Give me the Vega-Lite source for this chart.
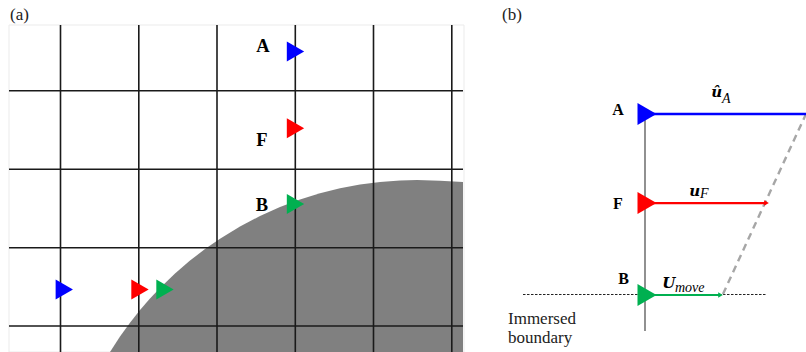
{
  "$schema": "https://vega.github.io/schema/vega-lite/v6.json",
  "width": 806,
  "height": 352,
  "padding": 0,
  "autosize": {"type": "none"},
  "background": "white",
  "config": {"view": {"stroke": null}, "axis": {"disable": true}, "text": {"font": "Liberation Serif, Times New Roman, DejaVu Serif, serif"}},
  "datasets": {
    "body": [
      {"x": 110, "y": 352}, {"x": 120, "y": 336.6}, {"x": 130, "y": 322.7}, {"x": 140, "y": 310.1},
      {"x": 150, "y": 298.5}, {"x": 160, "y": 287.9}, {"x": 175, "y": 273.5}, {"x": 190, "y": 260.6},
      {"x": 205, "y": 249.0}, {"x": 220, "y": 238.7}, {"x": 240, "y": 226.5}, {"x": 260, "y": 216.0},
      {"x": 280, "y": 207.1}, {"x": 300, "y": 199.5}, {"x": 320, "y": 193.3}, {"x": 340, "y": 188.3},
      {"x": 360, "y": 184.5}, {"x": 380, "y": 181.9}, {"x": 400, "y": 180.4}, {"x": 417, "y": 180.0},
      {"x": 440, "y": 180.7}, {"x": 463, "y": 182.0}
    ],
    "segs": [
      {"kind": "grid", "x": 60.5, "y": 25, "x2": 60.5, "y2": 352},
      {"kind": "grid", "x": 138.8, "y": 25, "x2": 138.8, "y2": 352},
      {"kind": "grid", "x": 217, "y": 25, "x2": 217, "y2": 352},
      {"kind": "grid", "x": 295.3, "y": 25, "x2": 295.3, "y2": 352},
      {"kind": "grid", "x": 373.5, "y": 25, "x2": 373.5, "y2": 352},
      {"kind": "grid", "x": 451.8, "y": 25, "x2": 451.8, "y2": 352},
      {"kind": "grid", "x": 9, "y": 90.7, "x2": 463, "y2": 90.7},
      {"kind": "grid", "x": 9, "y": 169.2, "x2": 463, "y2": 169.2},
      {"kind": "grid", "x": 9, "y": 247.7, "x2": 463, "y2": 247.7},
      {"kind": "grid", "x": 9, "y": 326, "x2": 463, "y2": 326},
      {"kind": "axis", "x": 645, "y": 114, "x2": 645, "y2": 331},
      {"kind": "boundary", "x": 523, "y": 294.5, "x2": 767, "y2": 294.5},
      {"kind": "guide", "x": 723, "y": 294, "x2": 806, "y2": 114},
      {"kind": "blue", "x": 650, "y": 114, "x2": 806, "y2": 114},
      {"kind": "red", "x": 650, "y": 203, "x2": 765, "y2": 203},
      {"kind": "green", "x": 650, "y": 295, "x2": 719, "y2": 295}
    ],
    "pts": [
      {"panel": "a", "pt": "A", "x": 295.5, "y": 51.5},
      {"panel": "a", "pt": "F", "x": 295.5, "y": 128.3},
      {"panel": "a", "pt": "B", "x": 295.5, "y": 204},
      {"panel": "a", "pt": "A", "x": 64.3, "y": 289.5},
      {"panel": "a", "pt": "F", "x": 140, "y": 289.5},
      {"panel": "a", "pt": "B", "x": 165, "y": 289.5},
      {"panel": "b", "pt": "A", "x": 647, "y": 114},
      {"panel": "b", "pt": "F", "x": 647, "y": 203},
      {"panel": "b", "pt": "B", "x": 647, "y": 295},
      {"panel": "head", "pt": "F", "x": 766.5, "y": 203},
      {"panel": "head", "pt": "B", "x": 720.5, "y": 295}
    ],
    "txt": [
      {"kind": "panel", "t": "(a)", "x": 10, "y": 20},
      {"kind": "panel", "t": "(b)", "x": 502, "y": 20},
      {"kind": "ptA", "t": "A", "x": 263, "y": 52},
      {"kind": "ptA", "t": "F", "x": 262, "y": 146},
      {"kind": "ptA", "t": "B", "x": 262, "y": 211},
      {"kind": "ptB", "t": "A", "x": 618, "y": 115},
      {"kind": "ptB", "t": "F", "x": 618, "y": 208.5},
      {"kind": "ptB", "t": "B", "x": 623.5, "y": 283.5},
      {"kind": "vec", "t": "û", "x": 716.7, "y": 96.7},
      {"kind": "vec", "t": "u", "x": 694.7, "y": 196},
      {"kind": "vec", "t": "U", "x": 668.7, "y": 288.3},
      {"kind": "sub", "t": "A", "x": 722, "y": 102.7},
      {"kind": "sub", "t": "F", "x": 700, "y": 197.5},
      {"kind": "sub", "t": "move", "x": 675, "y": 291.7},
      {"kind": "body", "t": "Immersed", "x": 508, "y": 323.5},
      {"kind": "body", "t": "boundary", "x": 508, "y": 343}
    ]
  },
  "encoding": {
    "x": {"field": "x", "type": "quantitative", "scale": {"domain": [0, 806], "nice": false, "zero": false}, "axis": null},
    "y": {"field": "y", "type": "quantitative", "scale": {"domain": [0, 352], "nice": false, "zero": false, "reverse": true}, "axis": null}
  },
  "layer": [
    {
      "data": {"values": [{"x": 9, "y": 25, "x2": 464, "y2": 352}]},
      "mark": {"type": "rect", "fill": null, "stroke": "#ebebeb", "strokeWidth": 1},
      "encoding": {"x2": {"field": "x2"}, "y2": {"field": "y2"}}
    },
    {
      "data": {"name": "body"},
      "mark": {"type": "area", "color": "#808080", "orient": "vertical"},
      "encoding": {"y2": {"datum": 352}}
    },
    {
      "data": {"name": "segs"},
      "transform": [{"filter": "datum.kind == 'grid'"}],
      "mark": {"type": "rule", "color": "#1a1a1a", "strokeWidth": 1.6},
      "encoding": {"x2": {"field": "x2"}, "y2": {"field": "y2"}}
    },
    {
      "data": {"name": "segs"},
      "transform": [{"filter": "datum.kind == 'axis'"}],
      "mark": {"type": "rule", "color": "#555555", "strokeWidth": 1.3},
      "encoding": {"x2": {"field": "x2"}, "y2": {"field": "y2"}}
    },
    {
      "data": {"name": "segs"},
      "transform": [{"filter": "datum.kind == 'boundary'"}],
      "mark": {"type": "rule", "color": "#222222", "strokeWidth": 1, "strokeDash": [2.5, 1.5]},
      "encoding": {"x2": {"field": "x2"}, "y2": {"field": "y2"}}
    },
    {
      "data": {"name": "segs"},
      "transform": [{"filter": "datum.kind == 'guide'"}],
      "mark": {"type": "rule", "color": "#a6a6a6", "strokeWidth": 2.4, "strokeDash": [7, 5]},
      "encoding": {"x2": {"field": "x2"}, "y2": {"field": "y2"}}
    },
    {
      "data": {"name": "segs"},
      "transform": [{"filter": "datum.kind == 'blue' || datum.kind == 'red' || datum.kind == 'green'"}],
      "mark": {"type": "rule"},
      "encoding": {
        "x2": {"field": "x2"},
        "y2": {"field": "y2"},
        "color": {"field": "kind", "type": "nominal", "scale": {"domain": ["blue", "red", "green"], "range": ["#0000ff", "#ff0000", "#00b050"]}, "legend": null},
        "strokeWidth": {"field": "kind", "type": "nominal", "scale": {"domain": ["blue", "red", "green"], "range": [2.5, 2, 2]}, "legend": null}
      }
    },
    {
      "data": {"name": "pts"},
      "transform": [{"filter": "datum.panel == 'a'"}],
      "mark": {"type": "point", "shape": "triangle-right", "filled": true, "opacity": 1, "size": 400},
      "encoding": {
        "color": {"field": "pt", "type": "nominal", "scale": {"domain": ["A", "F", "B"], "range": ["#0000ff", "#ff0000", "#00b050"]}, "legend": null}
      }
    },
    {
      "data": {"name": "pts"},
      "transform": [{"filter": "datum.panel == 'b'"}],
      "mark": {"type": "point", "shape": "triangle-right", "filled": true, "opacity": 1, "size": 484},
      "encoding": {
        "color": {"field": "pt", "type": "nominal", "scale": {"domain": ["A", "F", "B"], "range": ["#0000ff", "#ff0000", "#00b050"]}, "legend": null}
      }
    },
    {
      "data": {"name": "pts"},
      "transform": [{"filter": "datum.panel == 'head'"}],
      "mark": {"type": "point", "shape": "triangle-right", "filled": true, "opacity": 1, "size": 28},
      "encoding": {
        "color": {"field": "pt", "type": "nominal", "scale": {"domain": ["A", "F", "B"], "range": ["#0000ff", "#ff0000", "#00b050"]}, "legend": null}
      }
    },
    {
      "data": {"name": "txt"},
      "transform": [{"filter": "datum.kind == 'panel'"}],
      "mark": {"type": "text", "font": "Liberation Serif, Times New Roman, serif", "fontSize": 17, "align": "left", "baseline": "alphabetic", "color": "#222222"},
      "encoding": {"text": {"field": "t"}}
    },
    {
      "data": {"name": "txt"},
      "transform": [{"filter": "datum.kind == 'ptA'"}],
      "mark": {"type": "text", "font": "Liberation Serif, Times New Roman, serif", "fontSize": 18.5, "fontWeight": "bold", "align": "center", "baseline": "alphabetic", "color": "#000000"},
      "encoding": {"text": {"field": "t"}}
    },
    {
      "data": {"name": "txt"},
      "transform": [{"filter": "datum.kind == 'ptB'"}],
      "mark": {"type": "text", "font": "Liberation Serif, Times New Roman, serif", "fontSize": 16, "fontWeight": "bold", "align": "center", "baseline": "alphabetic", "color": "#000000"},
      "encoding": {"text": {"field": "t"}}
    },
    {
      "data": {"name": "txt"},
      "transform": [{"filter": "datum.kind == 'vec'"}],
      "mark": {"type": "text", "font": "DejaVu Serif, Liberation Serif, serif", "fontSize": 15, "fontWeight": "bold", "fontStyle": "italic", "align": "center", "baseline": "alphabetic", "color": "#000000"},
      "encoding": {"text": {"field": "t"}}
    },
    {
      "data": {"name": "txt"},
      "transform": [{"filter": "datum.kind == 'sub'"}],
      "mark": {"type": "text", "font": "Liberation Serif, Times New Roman, serif", "fontSize": 14, "fontStyle": "italic", "align": "left", "baseline": "alphabetic", "color": "#000000"},
      "encoding": {"text": {"field": "t"}}
    },
    {
      "data": {"name": "txt"},
      "transform": [{"filter": "datum.kind == 'body'"}],
      "mark": {"type": "text", "font": "Liberation Serif, Times New Roman, serif", "fontSize": 17, "align": "left", "baseline": "alphabetic", "color": "#222222"},
      "encoding": {"text": {"field": "t"}}
    }
  ]
}
